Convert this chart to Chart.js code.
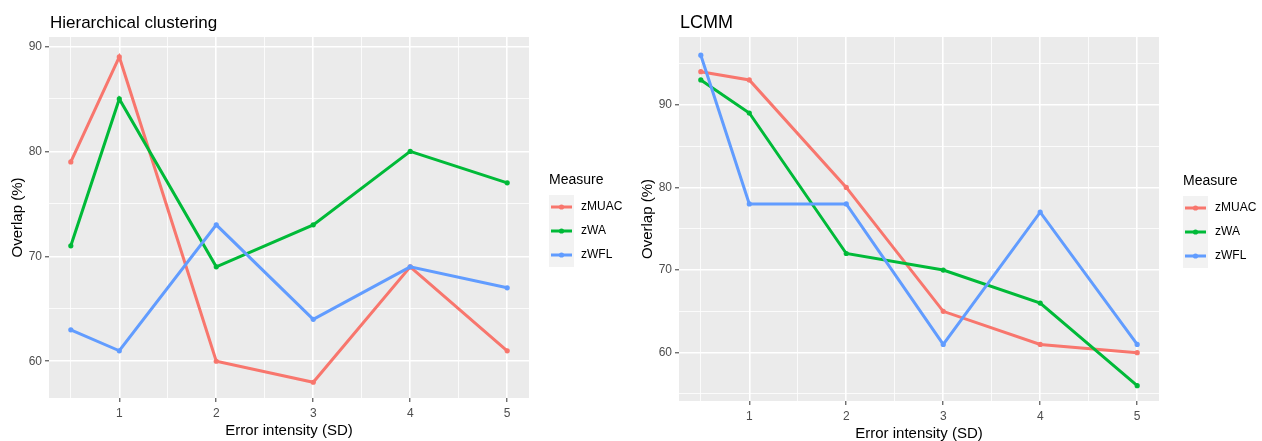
<!DOCTYPE html>
<html>
<head>
<meta charset="utf-8">
<script src="https://cdn.jsdelivr.net/npm/chart.js@4/dist/chart.umd.min.js"></script>
<style>
html, body { margin: 0; padding: 0; background: #fff; }
#wrap { position: relative; width: 1262px; height: 441px; overflow: hidden; }
canvas { position: absolute; top: 0; }
</style>
</head>
<body>
<div id="wrap">
  <canvas id="hc" width="630" height="441" style="left:0px"></canvas>
  <canvas id="lcmm" width="632" height="441" style="left:630px"></canvas>
</div>
<script>
// x values (error intensity, SD)
const errorSD = [0.5, 1, 2, 3, 4, 5];
const measures = ['zMUAC', 'zWA', 'zWFL'];

// Hierarchical clustering, overlap (%)
const hcMUAC = [79, 89, 60, 58, 69, 61];
const hcWA = [71, 85, 69, 73, 80, 77];
const hcWFL = [63, 61, 73, 64, 69, 67];

// LCMM, overlap (%)
const lcMUAC = [94, 93, 80, 65, 61, 60];
const lcWA = [93, 89, 72, 70, 66, 56];
const lcWFL = [96, 78, 78, 61, 77, 61];

// grid / tick values (majors get labels)
const xTicks = [0.5, 1, 1.5, 2, 2.5, 3, 3.5, 4, 4.5, 5];
const hcYTicks = [60, 65, 70, 75, 80, 85, 90];
const lcYTicks = [55, 60, 65, 70, 75, 80, 85, 90, 95];

const colors = ['#F8766D', '#00BA38', '#619CFF'];
const FONT = '"Liberation Sans", Arial, sans-serif';

function toPoints(ys) {
  return errorSD.map((x, i) => ({x: x, y: ys[i]}));
}

function makeDatasets(series) {
  return series.map((ys, i) => ({
    label: measures[i],
    data: toPoints(ys),
    borderColor: colors[i],
    backgroundColor: colors[i],
    pointBackgroundColor: colors[i],
    borderWidth: 3,
    pointRadius: 2.6,
    pointBorderWidth: 0,
    tension: 0,
    order: 3 - i
  }));
}

// gray panel behind the plot, title and legend drawn ggplot style
const panelPlugin = {
  id: 'panel',
  beforeDraw(chart) {
    const a = chart.chartArea;
    const ctx = chart.ctx;
    ctx.save();
    ctx.fillStyle = '#EBEBEB';
    ctx.fillRect(a.left, a.top, a.right - a.left, a.bottom - a.top);
    ctx.restore();
  },
  afterDraw(chart, args, opts) {
    const ctx = chart.ctx;
    const a = chart.chartArea;
    ctx.save();
    ctx.fillStyle = '#000';
    ctx.textBaseline = 'alphabetic';
    ctx.font = opts.titleSize + 'px ' + FONT;
    ctx.fillText(opts.title, a.left + 1, 28);

    const lx = opts.legendX, ly = opts.legendY;
    ctx.font = '14px ' + FONT;
    ctx.textBaseline = 'middle';
    ctx.fillText('Measure', lx, ly);
    const top = ly + 15;
    const rowH = 24;
    ctx.fillStyle = '#F2F2F2';
    ctx.fillRect(lx, top, 25, rowH * chart.data.datasets.length);
    chart.data.datasets.forEach((ds, i) => {
      const cy = top + rowH * i + rowH / 2;
      ctx.strokeStyle = ds.borderColor;
      ctx.lineWidth = 3;
      ctx.beginPath();
      ctx.moveTo(lx + 2, cy);
      ctx.lineTo(lx + 23, cy);
      ctx.stroke();
      ctx.fillStyle = ds.borderColor;
      ctx.beginPath();
      ctx.arc(lx + 12.5, cy, 2.6, 0, Math.PI * 2);
      ctx.fill();
      ctx.fillStyle = '#000';
      ctx.font = '12px ' + FONT;
      ctx.fillText(ds.label, lx + 32, cy);
    });
    ctx.restore();
  }
};

function isMajorX(v) { return Number.isInteger(v); }
function isMajorY(v) { return v % 10 === 0; }

function buildChart(id, series, yTicks, yMin, yMax, axisH, xTitlePad, title, titleSize, legendX, legendY, padRight) {
  return new Chart(document.getElementById(id), {
    type: 'line',
    data: { datasets: makeDatasets(series) },
    plugins: [panelPlugin],
    options: {
      responsive: false,
      animation: false,
      layout: { padding: { left: 0, top: 37, right: padRight, bottom: 0 } },
      plugins: {
        legend: { display: false },
        tooltip: { enabled: false },
        title: { display: false },
        panel: { title: title, titleSize: titleSize, legendX: legendX, legendY: legendY }
      },
      scales: {
        x: {
          type: 'linear',
          min: 0.275,
          max: 5.225,
          afterBuildTicks: s => { s.ticks = xTicks.map(v => ({value: v})); },
          afterFit: s => { s.height = axisH; },
          border: { display: false },
          grid: {
            color: '#FFFFFF',
            lineWidth: c => isMajorX(c.tick.value) ? 1.6 : 0.8,
            tickColor: c => isMajorX(c.tick.value) ? '#333333' : 'rgba(0,0,0,0)',
            tickWidth: 1,
            tickLength: 4
          },
          ticks: {
            autoSkip: false,
            maxRotation: 0,
            padding: 4,
            color: '#4D4D4D',
            font: { family: FONT, size: 12 },
            callback: v => isMajorX(v) ? String(v) : ''
          },
          title: {
            display: true,
            text: 'Error intensity (SD)',
            color: '#000',
            font: { family: FONT, size: 15 },
            padding: { top: 0, bottom: xTitlePad }
          }
        },
        y: {
          type: 'linear',
          min: yMin,
          max: yMax,
          afterBuildTicks: s => { s.ticks = yTicks.map(v => ({value: v})); },
          afterFit: s => { s.width = 49; },
          border: { display: false },
          grid: {
            color: '#FFFFFF',
            lineWidth: c => isMajorY(c.tick.value) ? 1.6 : 0.8,
            tickColor: c => isMajorY(c.tick.value) ? '#333333' : 'rgba(0,0,0,0)',
            tickWidth: 1,
            tickLength: 4
          },
          ticks: {
            autoSkip: false,
            padding: 3,
            color: '#4D4D4D',
            font: { family: FONT, size: 12 },
            callback: v => isMajorY(v) ? String(v) : ''
          },
          title: {
            display: true,
            text: 'Overlap (%)',
            color: '#000',
            font: { family: FONT, size: 15 },
            padding: { top: 9, bottom: 0 }
          }
        }
      }
    }
  });
}

buildChart('hc', [hcMUAC, hcWA, hcWFL], hcYTicks, 56.5, 90.9, 43, 1,
  'Hierarchical clustering', 17, 549, 180, 101);
buildChart('lcmm', [lcMUAC, lcWA, lcWFL], lcYTicks, 54.15, 98.2, 40, -2,
  'LCMM', 18, 553, 181, 103);
</script>
</body>
</html>
